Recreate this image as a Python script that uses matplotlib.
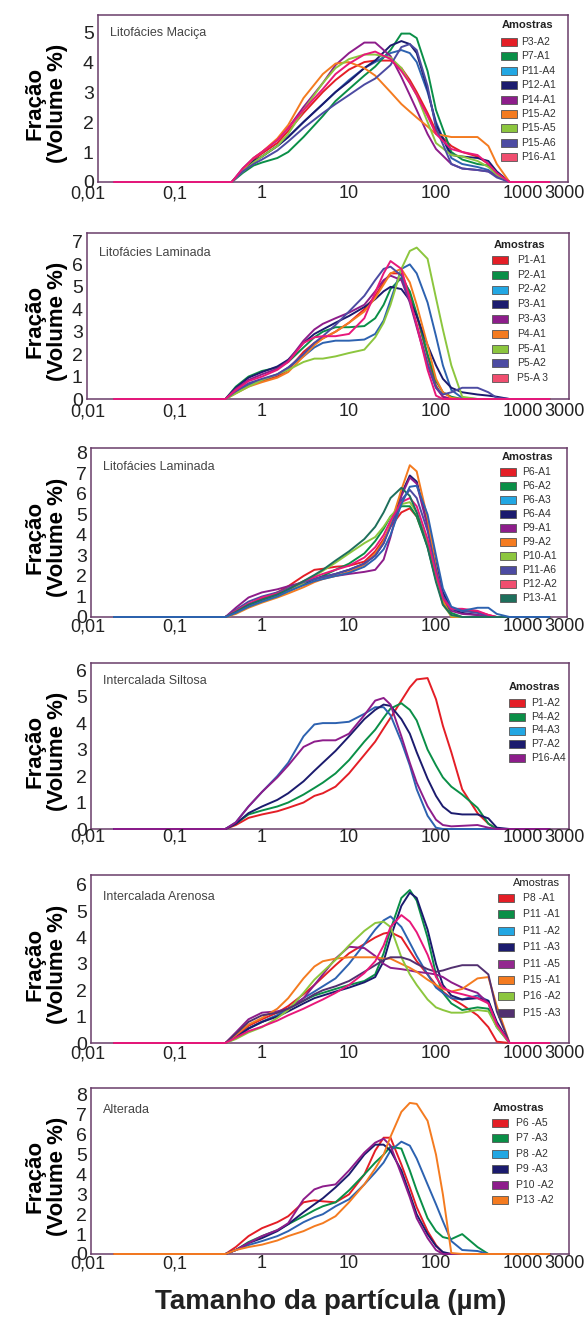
import matplotlib
matplotlib.use("Agg")
import matplotlib.pyplot as plt
from matplotlib.patches import Rectangle
from matplotlib.ticker import NullLocator
from matplotlib.transforms import blended_transform_factory

plt.rcParams['font.family'] = ['Liberation Sans', 'DejaVu Sans']

# particle size grids (um)
x_p1 = [0.02, 0.45, 0.6, 0.8, 1, 1.5, 2, 3, 5, 7, 10, 15, 20, 30, 40, 50, 60, 80, 100, 150, 200, 300, 400, 500, 700, 2000]
x_grid = [0.02, 0.38, 0.5, 0.7, 1, 1.5, 2, 3, 4, 5, 7, 10, 15, 20, 25, 30, 40, 50, 60, 80, 100, 120, 150, 200, 300, 400, 500, 700, 2000]

xtick_vals = [0.01, 0.1, 1, 10, 100, 1000, 3000]
xtick_labels = ['0,01', '0,1', '1', '10', '100', '1000', '3000']

RED = '#e41e26'
GREEN = '#0a8f47'
LBLUE = '#22a7e3'
BLUE_LINE = '#2d62b0'
NAVY = '#1b1b6e'
PURPLE = '#8d1d8b'
ORANGE = '#f47b20'
LGREEN = '#8cc63e'
SLATE = '#4c4ba2'
PINK = '#f04e6f'
PINK_LINE = '#e8187a'
TEAL = '#1e6f5c'
DKPURPLE = '#523070'

# Litofacies Macica
p1_names = ['P3-A2', 'P7-A1', 'P11-A4', 'P12-A1', 'P14-A1', 'P15-A2', 'P15-A5', 'P15-A6', 'P16-A1']
p1_patch = [RED, GREEN, LBLUE, NAVY, PURPLE, ORANGE, LGREEN, SLATE, PINK]
p1_line = [RED, GREEN, BLUE_LINE, NAVY, PURPLE, ORANGE, LGREEN, SLATE, PINK_LINE]
p1_vals = [
    [0, 0, 0.4, 0.75, 0.95, 1.3, 1.7, 2.3, 3.0, 3.4, 3.75, 4.0, 4.05, 4.05, 3.8, 3.4, 3.0, 2.3, 1.7, 1.2, 1.0, 0.85, 0.6, 0.3, 0, 0],
    [0, 0, 0.3, 0.55, 0.65, 0.8, 1.0, 1.5, 2.2, 2.7, 3.1, 3.55, 3.85, 4.4, 4.95, 4.95, 4.8, 3.7, 2.4, 1.0, 0.75, 0.6, 0.55, 0.25, 0, 0],
    [0, 0, 0.35, 0.65, 0.85, 1.2, 1.5, 2.0, 2.6, 3.0, 3.4, 3.8, 4.0, 4.3, 4.4, 4.3, 4.0, 3.0, 2.0, 0.8, 0.6, 0.5, 0.4, 0.2, 0, 0],
    [0, 0, 0.4, 0.7, 0.85, 1.2, 1.5, 2.0, 2.6, 3.0, 3.35, 3.8, 4.05, 4.55, 4.7, 4.6, 4.3, 3.1, 1.9, 0.9, 0.85, 0.8, 0.7, 0.35, 0, 0],
    [0, 0, 0.45, 0.8, 1.0, 1.4, 1.8, 2.5, 3.3, 3.9, 4.3, 4.65, 4.65, 4.2, 3.5, 2.9, 2.4, 1.6, 1.1, 0.6, 0.45, 0.4, 0.35, 0.2, 0, 0],
    [0, 0, 0.4, 0.8, 1.0, 1.45, 1.9, 2.8, 3.6, 3.95, 4.0, 3.8, 3.55, 3.0, 2.6, 2.35, 2.15, 1.85, 1.6, 1.5, 1.5, 1.5, 1.2, 0.6, 0, 0],
    [0, 0, 0.35, 0.65, 0.85, 1.2, 1.6, 2.4, 3.3, 3.8, 4.1, 4.25, 4.25, 4.15, 3.8, 3.3, 2.9, 2.0, 1.3, 0.9, 0.85, 0.7, 0.5, 0.25, 0, 0],
    [0, 0, 0.35, 0.6, 0.75, 1.05, 1.35, 1.8, 2.3, 2.6, 2.9, 3.25, 3.45, 3.9, 4.5, 4.6, 4.4, 3.2, 1.8, 0.6, 0.45, 0.4, 0.35, 0.15, 0, 0],
    [0, 0, 0.45, 0.8, 1.0, 1.4, 1.8, 2.4, 3.1, 3.6, 3.95, 4.25, 4.35, 4.1, 3.7, 3.3, 2.9, 2.2, 1.6, 1.1, 1.0, 0.9, 0.6, 0.3, 0, 0],
]

# Litofacies Laminada (1)
p2_names = ['P1-A1', 'P2-A1', 'P2-A2', 'P3-A1', 'P3-A3', 'P4-A1', 'P5-A1', 'P5-A2', 'P5-A 3']
p2_patch = [RED, GREEN, LBLUE, NAVY, PURPLE, ORANGE, LGREEN, SLATE, PINK]
p2_line = [RED, GREEN, BLUE_LINE, NAVY, PURPLE, ORANGE, LGREEN, SLATE, PINK_LINE]
p2_vals = [
    [0, 0, 0.3, 0.6, 0.8, 1.0, 1.3, 2.1, 2.5, 2.7, 3.0, 3.4, 4.0, 4.6, 5.2, 5.6, 5.6, 4.7, 3.7, 1.9, 0.6, 0.1, 0, 0, 0, 0, 0, 0, 0],
    [0, 0, 0.55, 1.0, 1.25, 1.4, 1.65, 2.3, 2.75, 3.0, 3.2, 3.2, 3.25, 3.6, 4.2, 4.9, 5.4, 4.8, 3.8, 2.0, 0.8, 0.3, 0.1, 0, 0, 0, 0, 0, 0],
    [0, 0, 0.3, 0.65, 0.85, 1.1, 1.4, 1.9, 2.3, 2.5, 2.6, 2.6, 2.65, 2.9, 3.5, 4.4, 5.8, 6.0, 5.6, 4.3, 2.8, 1.5, 0.4, 0.05, 0, 0, 0, 0, 0],
    [0, 0, 0.5, 0.95, 1.2, 1.45, 1.75, 2.5, 2.9, 3.1, 3.4, 3.7, 4.1, 4.45, 4.8, 5.0, 4.9, 4.4, 3.7, 2.4, 1.5, 0.9, 0.5, 0.3, 0.2, 0.15, 0.1, 0, 0],
    [0, 0, 0.45, 0.85, 1.1, 1.35, 1.7, 2.6, 3.1, 3.35, 3.6, 3.85, 4.2, 4.8, 5.3, 5.5, 5.3, 4.3, 3.2, 1.5, 0.5, 0.1, 0, 0, 0, 0, 0, 0, 0],
    [0, 0, 0.25, 0.55, 0.75, 0.95, 1.2, 1.9, 2.4, 2.7, 3.0, 3.4, 3.9, 4.5, 5.1, 5.6, 5.8, 5.2, 4.2, 2.4, 0.9, 0.3, 0.05, 0, 0, 0, 0, 0, 0],
    [0, 0, 0.25, 0.55, 0.85, 1.1, 1.3, 1.65, 1.8, 1.8, 1.9, 2.05, 2.2, 2.75, 3.4, 4.2, 5.8, 6.6, 6.75, 6.25, 4.5, 3.1, 1.5, 0.1, 0, 0, 0, 0, 0],
    [0, 0, 0.35, 0.7, 0.9, 1.1, 1.4, 2.0, 2.5, 2.8, 3.3, 3.9, 4.6, 5.3, 5.8, 5.9, 5.5, 4.4, 3.3, 1.6, 0.5, 0.2, 0.3, 0.5, 0.5, 0.3, 0.05, 0, 0],
    [0, 0, 0.4, 0.8, 1.0, 1.3, 1.65, 2.5, 2.75, 2.8, 2.8, 2.9, 3.6, 4.75, 5.6, 6.15, 5.8, 4.45, 3.3, 1.3, 0.15, 0, 0, 0, 0, 0, 0, 0, 0],
]

# Litofacies Laminada (2)
p3_names = ['P6-A1', 'P6-A2', 'P6-A3', 'P6-A4', 'P9-A1', 'P9-A2', 'P10-A1', 'P11-A6', 'P12-A2', 'P13-A1']
p3_patch = [RED, GREEN, LBLUE, NAVY, PURPLE, ORANGE, LGREEN, SLATE, PINK, TEAL]
p3_line = [RED, GREEN, BLUE_LINE, NAVY, PURPLE, ORANGE, LGREEN, SLATE, PINK_LINE, TEAL]
p3_vals = [
    [0, 0, 0.3, 0.6, 0.9, 1.2, 1.5, 2.0, 2.3, 2.35, 2.45, 2.5, 2.7, 3.2, 3.8, 4.4, 5.1, 5.3, 4.9, 3.5, 2.0, 0.9, 0.4, 0.35, 0.25, 0.1, 0, 0, 0],
    [0, 0, 0.2, 0.5, 0.75, 1.0, 1.25, 1.6, 1.85, 2.0, 2.3, 2.6, 3.1, 3.7, 4.3, 4.9, 5.4, 5.4, 4.9, 3.4, 1.8, 0.8, 0.2, 0, 0, 0, 0, 0, 0],
    [0, 0, 0.2, 0.5, 0.75, 1.0, 1.25, 1.55, 1.75, 1.85, 2.0, 2.15, 2.45, 2.85, 3.3, 4.0, 5.5, 6.35, 6.4, 5.0, 3.0, 1.4, 0.5, 0.3, 0.45, 0.45, 0.15, 0, 0],
    [0, 0, 0.25, 0.55, 0.8, 1.05, 1.3, 1.65, 1.85, 1.95, 2.1, 2.3, 2.6, 3.0, 3.6, 4.5, 6.0, 6.9, 6.6, 4.6, 2.6, 1.2, 0.4, 0.2, 0.1, 0, 0, 0, 0],
    [0, 0, 0.45, 0.95, 1.2, 1.35, 1.5, 1.7, 1.85, 1.95, 2.0, 2.1, 2.2, 2.3, 2.8, 3.9, 5.9, 6.8, 6.5, 4.4, 2.4, 1.0, 0.3, 0.15, 0.1, 0, 0, 0, 0],
    [0, 0, 0.15, 0.45, 0.7, 0.95, 1.15, 1.45, 1.7, 1.85, 2.0, 2.2, 2.55, 3.1, 3.7, 4.5, 6.2, 7.4, 7.1, 4.8, 2.4, 0.8, 0, 0, 0, 0, 0, 0, 0],
    [0, 0, 0.2, 0.5, 0.75, 1.0, 1.25, 1.65, 2.0, 2.25, 2.65, 3.1, 3.6, 3.9, 4.4, 4.9, 5.5, 5.6, 5.1, 3.6, 1.9, 0.6, 0.05, 0, 0, 0, 0, 0, 0],
    [0, 0, 0.35, 0.75, 1.0, 1.2, 1.4, 1.7, 1.85, 1.95, 2.1, 2.3, 2.6, 3.0, 3.6, 4.4, 5.7, 6.2, 5.8, 4.2, 2.3, 1.0, 0.4, 0.3, 0.2, 0.05, 0, 0, 0],
    [0, 0, 0.3, 0.65, 0.95, 1.15, 1.35, 1.75, 1.95, 2.1, 2.3, 2.5, 2.9, 3.4, 4.0, 4.7, 5.6, 5.8, 5.4, 3.8, 2.1, 0.9, 0.4, 0.4, 0.3, 0.1, 0, 0, 0],
    [0, 0, 0.25, 0.6, 0.85, 1.1, 1.35, 1.75, 2.05, 2.3, 2.75, 3.2, 3.8, 4.4, 5.1, 5.8, 6.3, 5.9, 5.1, 3.4, 1.7, 0.6, 0.1, 0, 0, 0, 0, 0, 0],
]
p3_order = [0, 1, 3, 4, 5, 6, 7, 8, 9, 2]

# Intercalada Siltosa
p4_names = ['P1-A2', 'P4-A2', 'P4-A3', 'P7-A2', 'P16-A4']
p4_patch = [RED, GREEN, LBLUE, NAVY, PURPLE]
p4_line = [RED, GREEN, BLUE_LINE, NAVY, PURPLE]
p4_vals = [
    [0, 0, 0.15, 0.42, 0.55, 0.67, 0.8, 1.0, 1.25, 1.35, 1.6, 2.1, 2.8, 3.3, 3.8, 4.2, 4.85, 5.35, 5.65, 5.7, 4.9, 3.9, 2.9, 1.5, 0.6, 0.2, 0, 0, 0],
    [0, 0, 0.2, 0.55, 0.7, 0.85, 1.0, 1.3, 1.55, 1.75, 2.1, 2.6, 3.3, 3.75, 4.2, 4.55, 4.75, 4.5, 4.1, 3.0, 2.4, 1.95, 1.6, 1.3, 0.8, 0.2, 0, 0, 0],
    [0, 0, 0.25, 0.85, 1.4, 2.0, 2.5, 3.5, 3.95, 4.0, 4.0, 4.05, 4.35, 4.6, 4.6, 4.3, 3.3, 2.4, 1.5, 0.5, 0.05, 0, 0, 0, 0, 0, 0, 0, 0],
    [0, 0, 0.2, 0.6, 0.85, 1.1, 1.35, 1.8, 2.2, 2.5, 2.95, 3.5, 4.15, 4.5, 4.7, 4.65, 4.15, 3.6, 2.9, 1.9, 1.25, 0.85, 0.6, 0.55, 0.55, 0.4, 0.05, 0, 0],
    [0, 0, 0.25, 0.85, 1.4, 1.95, 2.4, 3.1, 3.3, 3.35, 3.35, 3.6, 4.3, 4.85, 4.95, 4.7, 3.5, 2.5, 1.75, 0.86, 0.35, 0.15, 0.1, 0.12, 0.15, 0.05, 0, 0, 0],
]

# Intercalada Arenosa
p5_names = ['P8 -A1', 'P11 -A1', 'P11 -A2', 'P11 -A3', 'P11 -A5', 'P15 -A1', 'P16 -A2', 'P15 -A3']
p5_patch = [RED, GREEN, LBLUE, NAVY, '#93288f', ORANGE, LGREEN, DKPURPLE]
p5_line = [RED, GREEN, BLUE_LINE, NAVY, PURPLE, ORANGE, LGREEN, DKPURPLE]
p5_vals = [
    [0, 0, 0.25, 0.65, 0.9, 1.15, 1.4, 1.85, 2.2, 2.5, 2.95, 3.4, 3.75, 4.0, 4.15, 4.2, 4.0, 3.5, 3.1, 2.6, 2.2, 1.95, 1.7, 1.45, 1.05, 0.6, 0.05, 0, 0],
    [0, 0, 0.2, 0.55, 0.8, 1.05, 1.3, 1.6, 1.8, 1.9, 2.05, 2.2, 2.35, 2.6, 3.4, 4.3, 5.5, 5.8, 5.4, 4.0, 2.6, 1.9, 1.5, 1.25, 1.35, 1.3, 0.6, 0, 0],
    [0, 0, 0.2, 0.55, 0.8, 1.05, 1.3, 1.7, 1.95, 2.15, 2.45, 3.0, 3.75, 4.3, 4.65, 4.8, 4.4, 3.8, 3.3, 2.6, 2.1, 1.9, 1.7, 1.65, 1.8, 1.6, 0.7, 0, 0],
    [0, 0, 0.2, 0.55, 0.8, 1.0, 1.2, 1.5, 1.7, 1.8, 1.95, 2.1, 2.3, 2.5, 3.1, 4.0, 5.2, 5.7, 5.5, 4.3, 3.0, 2.2, 1.8, 1.65, 1.7, 1.6, 0.8, 0, 0],
    [0, 0, 0.4, 0.9, 1.15, 1.2, 1.3, 1.7, 2.2, 2.6, 3.2, 3.65, 3.6, 3.3, 3.0, 2.85, 2.8, 2.75, 2.7, 2.65, 2.6, 2.5, 2.3, 2.1, 1.9, 1.5, 0.7, 0, 0],
    [0, 0, 0.3, 0.7, 0.95, 1.3, 1.7, 2.45, 2.9, 3.1, 3.2, 3.25, 3.25, 3.25, 3.2, 3.2, 3.0, 2.85, 2.7, 2.4, 2.2, 2.05, 1.95, 2.05, 2.45, 2.5, 1.4, 0, 0],
    [0, 0, 0.15, 0.4, 0.6, 0.95, 1.25, 1.9, 2.4, 2.7, 3.15, 3.7, 4.25, 4.55, 4.6, 4.4, 3.25, 2.6, 2.2, 1.65, 1.35, 1.25, 1.15, 1.15, 1.25, 1.2, 0.6, 0, 0],
    [0, 0, 0.35, 0.8, 1.05, 1.15, 1.3, 1.6, 1.85, 2.0, 2.15, 2.35, 2.7, 2.95, 3.15, 3.25, 3.25, 3.15, 3.0, 2.8, 2.7, 2.75, 2.85, 2.95, 2.95, 2.6, 1.2, 0, 0],
]
p5_extra = [0, 0, 0.2, 0.45, 0.62, 0.85, 1.05, 1.3, 1.5, 1.65, 1.9, 2.2, 2.65, 3.1, 3.7, 4.4, 4.85, 4.6, 4.2, 3.35, 2.5, 2.1, 1.95, 1.85, 1.7, 1.5, 0.7, 0, 0]

# Alterada
p6_names = ['P6 -A5', 'P7 -A3', 'P8 -A2', 'P9 -A3', 'P10 -A2', 'P13 -A2']
p6_patch = [RED, GREEN, LBLUE, NAVY, PURPLE, ORANGE]
p6_line = [RED, GREEN, BLUE_LINE, NAVY, PURPLE, ORANGE]
p6_vals = [
    [0, 0, 0.35, 0.9, 1.3, 1.6, 1.9, 2.6, 2.7, 2.65, 2.6, 3.0, 4.0, 5.2, 5.85, 5.85, 4.5, 3.35, 2.35, 1.15, 0.45, 0.05, 0, 0, 0, 0, 0, 0, 0],
    [0, 0, 0.2, 0.6, 0.9, 1.2, 1.5, 1.9, 2.2, 2.4, 2.6, 3.2, 4.0, 4.6, 5.0, 5.4, 5.3, 4.2, 3.2, 1.8, 1.15, 0.85, 0.75, 1.0, 0.35, 0, 0, 0, 0],
    [0, 0, 0.2, 0.45, 0.65, 0.9, 1.15, 1.6, 1.85, 2.0, 2.4, 2.75, 3.5, 4.1, 4.6, 5.2, 5.65, 5.45, 4.8, 3.5, 2.5, 1.65, 0.65, 0.2, 0.15, 0, 0, 0, 0],
    [0, 0, 0.2, 0.55, 0.8, 1.15, 1.5, 2.1, 2.5, 2.8, 3.35, 4.0, 5.0, 5.5, 5.5, 5.2, 4.2, 3.0, 2.0, 1.0, 0.4, 0.1, 0, 0, 0, 0, 0, 0, 0],
    [0, 0, 0.2, 0.55, 0.9, 1.2, 1.55, 2.75, 3.25, 3.4, 3.5, 4.2, 5.1, 5.6, 5.8, 5.45, 4.0, 2.85, 1.8, 0.8, 0.2, 0, 0, 0, 0, 0, 0, 0, 0],
    [0, 0, 0.2, 0.35, 0.47, 0.68, 0.9, 1.15, 1.4, 1.55, 1.9, 2.6, 3.5, 4.3, 5.0, 5.9, 7.15, 7.6, 7.55, 6.7, 5.0, 3.0, 0.05, 0, 0, 0, 0, 0, 0],
]

W, H = 587, 1317
fig = plt.figure(figsize=(W / 100, H / 100), dpi=100)


def fx(px):
    return px / W


def fy(py):
    return 1 - py / H


# pixel layout: box = left, right, top, bottom; leg = (title_x, title_y, first_y, step,
# patch_x, text_x, title_bold, title_ha)
panels = [
    dict(box=(98, 568, 15, 182), ymax=5.57, nt=5, title='Litofácies Maciça', ty=33, xoff=12,
         leg=(528, 25, 42, 14.4, 501, 521, True, 'center'),
         x=x_p1, names=p1_names, patch=p1_patch, line=p1_line, vals=p1_vals, order=None),
    dict(box=(87, 569, 233, 399), ymax=7.4, nt=7, title='Litofácies Laminada', ty=253, xoff=13,
         leg=(520, 245, 260, 14.75, 492, 517, True, 'center'),
         x=x_grid, names=p2_names, patch=p2_patch, line=p2_line, vals=p2_vals, order=None),
    dict(box=(91, 567, 448, 617), ymax=8.24, nt=8, title='Litofácies Laminada', ty=467, xoff=10,
         leg=(528, 457, 472, 14.0, 500, 522, True, 'center'),
         x=x_grid, names=p3_names, patch=p3_patch, line=p3_line, vals=p3_vals, order=p3_order),
    dict(box=(91, 569, 663, 829), ymax=6.27, nt=6, title='Intercalada Siltosa', ty=681, xoff=8,
         leg=(535, 687, 703, 13.75, 509, 531, True, 'center'),
         x=x_grid, names=p4_names, patch=p4_patch, line=p4_line, vals=p4_vals, order=None),
    dict(box=(91, 569, 875, 1043), ymax=6.37, nt=6, title='Intercalada Arenosa', ty=897, xoff=11,
         leg=(560, 883, 898, 16.4, 498, 523, False, 'right'),
         x=x_grid, names=p5_names, patch=p5_patch, line=p5_line, vals=p5_vals, order=None),
    dict(box=(91, 569, 1088, 1254), ymax=8.35, nt=8, title='Alterada', ty=1110, xoff=10,
         leg=(519, 1108, 1123, 15.4, 492, 516, True, 'center'),
         x=x_grid, names=p6_names, patch=p6_patch, line=p6_line, vals=p6_vals, order=None),
]

for i, p in enumerate(panels):
    L, R, T, B = p['box']
    ax = fig.add_axes([fx(L), fy(B), (R - L) / W, (B - T) / H])
    ax.set_xscale('log')
    ax.set_xlim(10 ** ((L - 262) / 87), 10 ** ((R - 262) / 87))
    ax.set_ylim(0, p['ymax'])

    order = p['order'] if p['order'] is not None else range(len(p['vals']))
    for k in order:
        ax.plot(p['x'], p['vals'][k], color=p['line'][k], lw=1.4, clip_on=False, zorder=3)
    if i == 4:
        ax.plot(p['x'], p5_extra, color=PINK_LINE, lw=1.4, clip_on=False, zorder=3)

    for s in ax.spines.values():
        s.set_color('#6a3d6a')
        s.set_linewidth(1.1)
    ax.set_yticks(range(0, p['nt'] + 1))
    ax.tick_params(axis='y', length=0, labelsize=14, pad=3, labelcolor='#222222')
    ax.set_xticks([])
    ax.xaxis.set_minor_locator(NullLocator())

    trans = blended_transform_factory(ax.transData, ax.transAxes)
    hpx = B - T
    for v, s in zip(xtick_vals, xtick_labels):
        ax.text(v, -p['xoff'] / hpx, s, transform=trans, ha='center', va='center',
                fontsize=13, color='#222222', clip_on=False)

    fig.text(fx(L + 12), fy(p['ty']), p['title'], fontsize=9, color='#444444',
             ha='left', va='center')

    tx, tyy, y0, step, px0, txx, bold, ha = p['leg']
    fig.text(fx(tx), fy(tyy), 'Amostras', fontsize=8,
             fontweight='bold' if bold else 'normal', ha=ha, va='center', color='#222222')
    for j, (nm, c) in enumerate(zip(p['names'], p['patch'])):
        yy = y0 + j * step
        fig.patches.append(Rectangle((fx(px0), fy(yy + 4)), 16 / W, 8 / H,
                                     transform=fig.transFigure, facecolor=c,
                                     edgecolor='#555555', linewidth=0.6))
        fig.text(fx(txx), fy(yy), nm, fontsize=7.5, ha='left', va='center', color='#333333')

    fig.text(fx(46), fy((T + B) / 2 + 5), 'Fração\n(Volume %)', rotation=90,
             fontsize=16, fontweight='bold', ha='center', va='center',
             multialignment='center', linespacing=1.1)

fig.text(fx(331), fy(1302), 'Tamanho da partícula (µm)', fontsize=20,
         fontweight='bold', ha='center', va='center', color='#222222')

fig.savefig('out.png', dpi=100)
